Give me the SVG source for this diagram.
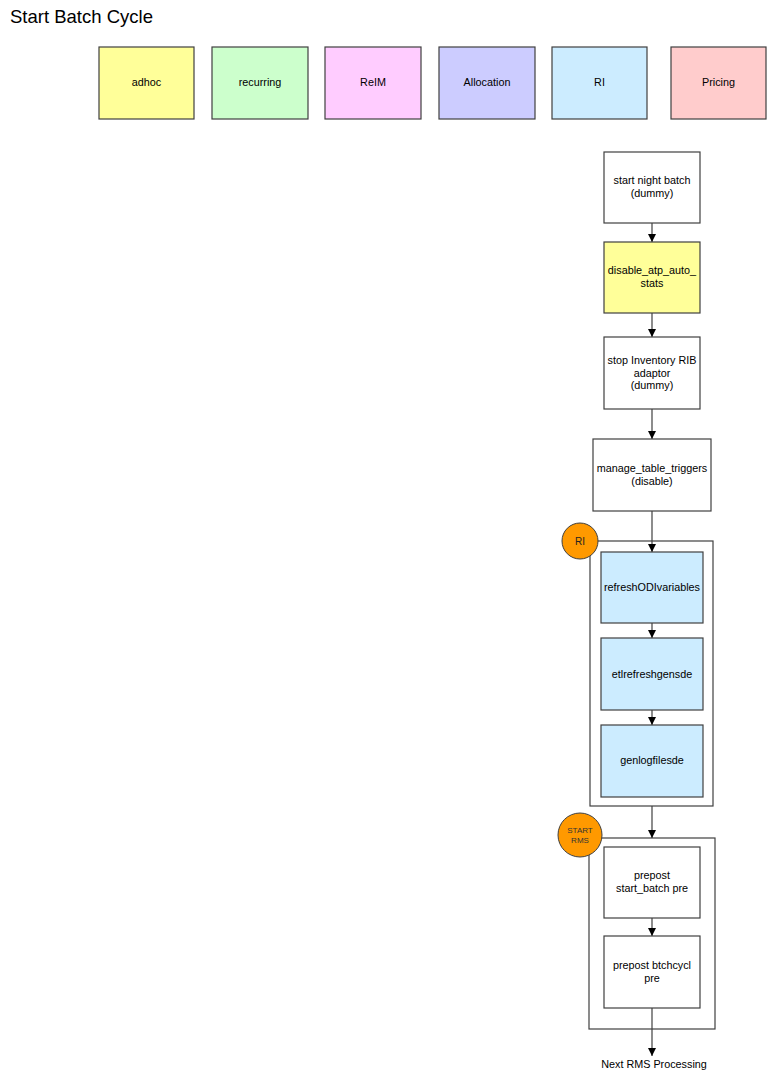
<svg xmlns="http://www.w3.org/2000/svg" width="768" height="1077" viewBox="0 0 768 1077">
<defs>
<marker id="arr" markerWidth="10" markerHeight="10" refX="9" refY="5" orient="auto" markerUnits="userSpaceOnUse">
<path d="M1,1 L9,5 L1,9 Z" fill="#000"/>
</marker>
<style>
.b{stroke:#404040;stroke-width:1.2}
.t{font-family:"Liberation Sans",Arial,sans-serif;font-size:10.8px;fill:#000;text-anchor:middle}
.c{stroke:#404040;stroke-width:1.2;fill:none;marker-end:url(#arr)}
.g{fill:#fff;stroke:#404040;stroke-width:1.2}
.o{fill:#FF9900;stroke:#404040;stroke-width:1}
</style>
</defs>
<rect width="768" height="1077" fill="#fff"/>
<text x="10" y="23" style="font-family:'Liberation Sans',Arial,sans-serif;font-size:18.5px;fill:#000">Start Batch Cycle</text>
<g id="legend-adhoc"><rect class="b" x="99" y="47" width="95" height="72" fill="#FFFF99"/><text class="t" x="146.5" y="86">adhoc</text></g>
<g id="legend-recurring"><rect class="b" x="212" y="47" width="96" height="72" fill="#CCFFCC"/><text class="t" x="260" y="86">recurring</text></g>
<g id="legend-reim"><rect class="b" x="325" y="47" width="96" height="72" fill="#FFCCFF"/><text class="t" x="373" y="86">ReIM</text></g>
<g id="legend-allocation"><rect class="b" x="439" y="47" width="96" height="72" fill="#CCCCFF"/><text class="t" x="487" y="86">Allocation</text></g>
<g id="legend-ri"><rect class="b" x="552" y="47" width="95" height="72" fill="#CCECFF"/><text class="t" x="599.5" y="86">RI</text></g>
<g id="legend-pricing"><rect class="b" x="671" y="47" width="95" height="72" fill="#FFCCCC"/><text class="t" x="718.5" y="86">Pricing</text></g>

<g id="group-ri"><rect class="g" x="590" y="541" width="123" height="265"/><circle class="o" cx="580" cy="541" r="18"/><text class="t" x="580" y="545" style="font-size:10px;fill:#222">RI</text></g>
<g id="group-start-rms"><rect class="g" x="589" y="838" width="126" height="191"/><circle class="o" cx="580" cy="835" r="22"/><text class="t" x="580" y="833" style="font-size:8px;fill:#333">START</text><text class="t" x="580" y="843" style="font-size:8px;fill:#333">RMS</text></g>

<g id="connectors">
<line class="c" x1="652" y1="223" x2="652" y2="242"/>
<line class="c" x1="652" y1="313" x2="652" y2="337"/>
<line class="c" x1="652" y1="409" x2="652" y2="439"/>
<line class="c" x1="652" y1="511" x2="652" y2="552"/>
<line class="c" x1="652" y1="623" x2="652" y2="638"/>
<line class="c" x1="652" y1="710" x2="652" y2="725"/>
<line class="c" x1="652" y1="806" x2="652" y2="838"/>
<line class="c" x1="652" y1="918" x2="652" y2="936"/>
<line class="c" x1="652" y1="1008" x2="652" y2="1056"/>
</g>

<g id="n-start-night-batch"><rect class="b" x="604" y="152" width="96" height="71" fill="#fff"/><text class="t" x="652" y="184">start night batch</text><text class="t" x="652" y="197">(dummy)</text></g>
<g id="n-disable-atp"><rect class="b" x="604" y="242" width="96" height="71" fill="#FFFF99"/><text class="t" x="652" y="274">disable_atp_auto_</text><text class="t" x="652" y="287">stats</text></g>
<g id="n-stop-inventory"><rect class="b" x="604" y="337" width="96" height="72" fill="#fff"/><text class="t" x="652" y="364">stop Inventory RIB</text><text class="t" x="652" y="377">adaptor</text><text class="t" x="652" y="389">(dummy)</text></g>
<g id="n-manage-triggers"><rect class="b" x="593" y="439" width="118" height="72" fill="#fff"/><text class="t" x="652" y="472">manage_table_triggers</text><text class="t" x="652" y="485">(disable)</text></g>
<g id="n-refreshodi"><rect class="b" x="601" y="552" width="102" height="71" fill="#CCECFF"/><text class="t" x="652" y="591">refreshODIvariables</text></g>
<g id="n-etlrefresh"><rect class="b" x="601" y="638" width="102" height="72" fill="#CCECFF"/><text class="t" x="652" y="678">etlrefreshgensde</text></g>
<g id="n-genlog"><rect class="b" x="601" y="725" width="102" height="72" fill="#CCECFF"/><text class="t" x="652" y="764">genlogfilesde</text></g>
<g id="n-prepost-start"><rect class="b" x="604" y="847" width="96" height="71" fill="#fff"/><text class="t" x="652" y="879">prepost</text><text class="t" x="652" y="892">start_batch pre</text></g>
<g id="n-prepost-btchcycl"><rect class="b" x="604" y="936" width="96" height="72" fill="#fff"/><text class="t" x="652" y="969">prepost btchcycl</text><text class="t" x="652" y="982">pre</text></g>
<g id="n-next"><text class="t" x="654" y="1068">Next RMS Processing</text></g>
</svg>
